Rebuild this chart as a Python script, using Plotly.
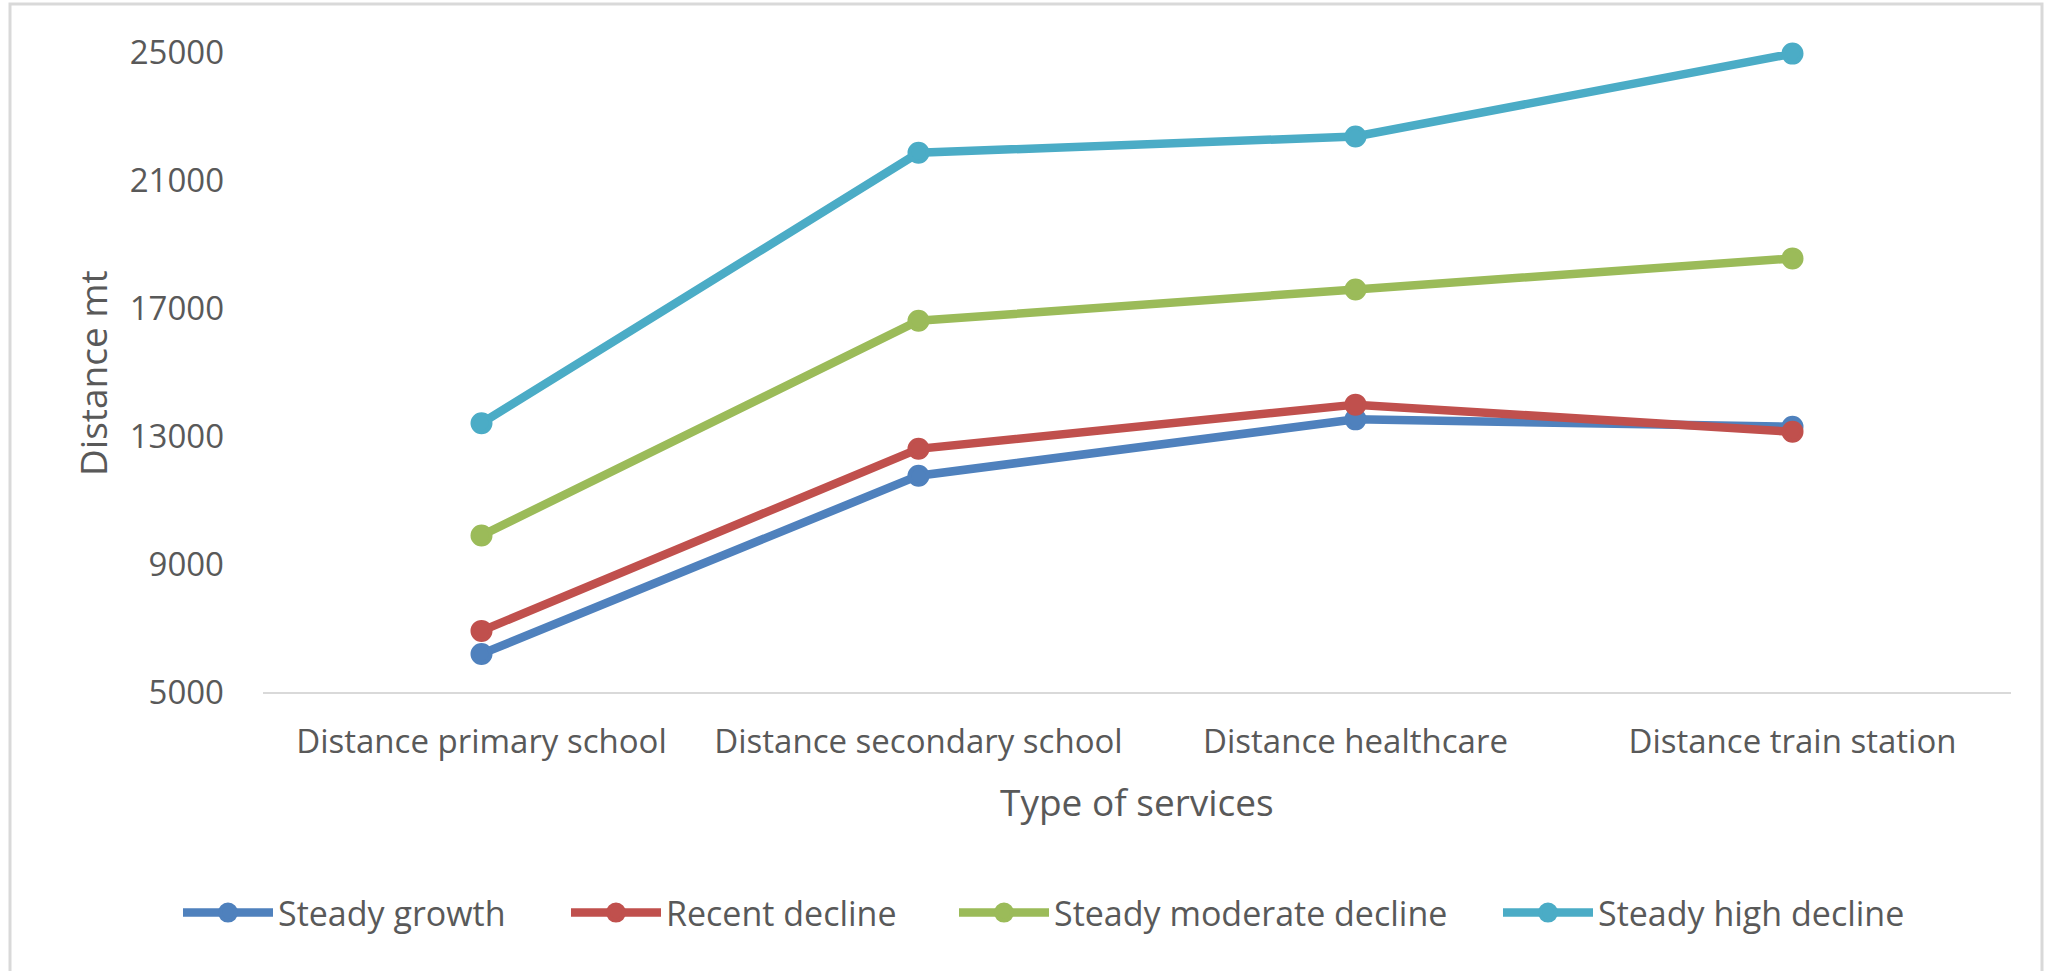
import plotly.graph_objects as go

categories = ["Distance primary school", "Distance secondary school", "Distance healthcare", "Distance train station"]
steady_growth = [6190, 11760, 13520, 13290]
recent_decline = [6910, 12600, 13980, 13130]
steady_moderate_decline = [9890, 16600, 17580, 18550]
steady_high_decline = [13400, 21850, 22360, 24950]
y_ticks = [5000, 9000, 13000, 17000, 21000, 25000]

series = [
    ("Steady growth", steady_growth, "#4F81BD"),
    ("Recent decline", recent_decline, "#C0504D"),
    ("Steady moderate decline", steady_moderate_decline, "#9BBB59"),
    ("Steady high decline", steady_high_decline, "#4BACC6"),
]

FONT = "Open Sans"
TXT = "#595959"

W, H = 2052, 971
L, R, T, B = 263, 41, 52, 279
pw = W - L - R
ph = H - T - B

def px(x):
    return (x - L) / pw

def py(y):
    return (H - B - y) / ph

legend_starts = [186, 574, 962, 1506]
legend_names = ["legend", "legend2", "legend3", "legend4"]

fig = go.Figure()
for (name, vals, col), lg in zip(series, legend_names):
    fig.add_trace(go.Scatter(
        x=categories, y=vals, name=name, mode="lines+markers",
        line=dict(color=col, width=8.5),
        marker=dict(color=col, size=18, line=dict(color=col, width=4)),
        cliponaxis=False, legend=lg,
    ))

legend_layouts = {}
for lg, xs in zip(legend_names, legend_starts):
    legend_layouts[lg] = dict(
        orientation="h", x=px(xs - 8), xanchor="left", y=py(913), yanchor="middle",
        font=dict(family=FONT, size=34, color=TXT),
        itemwidth=90, bgcolor="rgba(0,0,0,0)",
    )

fig.update_layout(
    width=W, height=H,
    margin=dict(l=L, r=R, t=T, b=B),
    paper_bgcolor="white", plot_bgcolor="white",
    font=dict(family=FONT, color=TXT, size=33),
    showlegend=True,
    xaxis=dict(
        type="category", showgrid=False, showline=True, linecolor="#D9D9D9", linewidth=2,
        ticks="", tickfont=dict(family=FONT, size=33, color=TXT), ticklabelstandoff=19,
        range=[-0.5, 3.5], zeroline=False,
    ),
    yaxis=dict(
        range=[5000, 25000], tickvals=y_ticks, tickformat="d",
        showgrid=False, showline=False, zeroline=False,
        ticks="", tickfont=dict(family=FONT, size=33, color=TXT), ticklabelstandoff=38,
    ),
    annotations=[
        dict(text="Type of services", x=0.5, y=py(801), xref="paper", yref="paper",
             showarrow=False, xanchor="center", yanchor="middle",
             font=dict(family=FONT, size=37, color=TXT)),
        dict(text="Distance mt", x=px(92), y=py(373), xref="paper", yref="paper",
             showarrow=False, xanchor="center", yanchor="middle", textangle=-90,
             font=dict(family=FONT, size=37, color=TXT)),
    ],
    shapes=[
        dict(type="rect", xref="paper", yref="paper",
             x0=px(10), x1=px(2042), y0=py(1100), y1=py(4),
             line=dict(color="#D9D9D9", width=3), fillcolor="rgba(0,0,0,0)", layer="below"),
    ],
    **legend_layouts,
)

fig.write_html("out.html")
